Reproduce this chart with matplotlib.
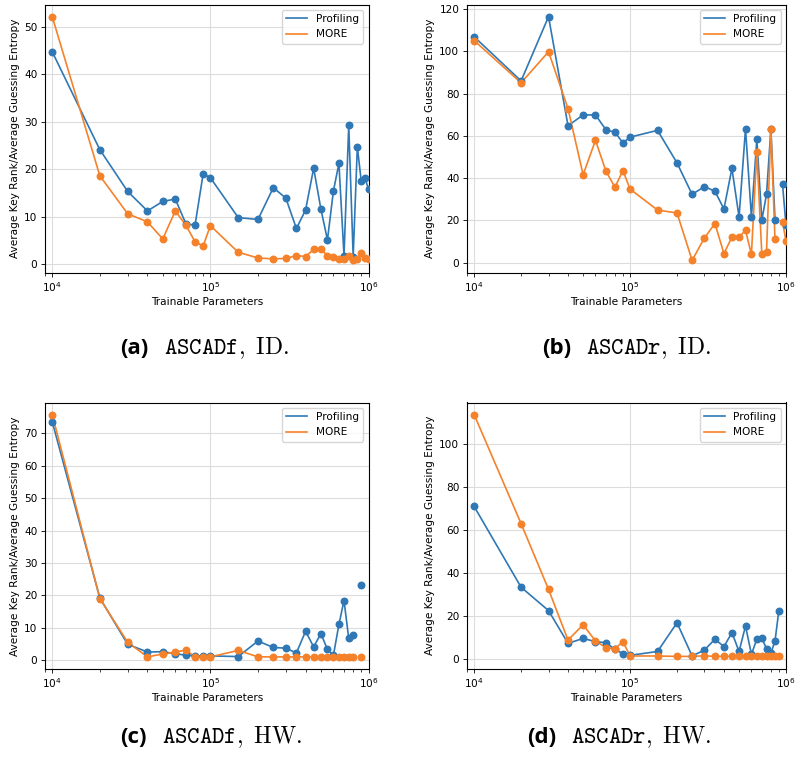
import numpy as np
import matplotlib.pyplot as plt
from matplotlib.offsetbox import TextArea, HPacker, AnnotationBbox

nan = np.nan

# trainable parameters (x axis)
params = [10000, 20000, 30000, 40000, 50000, 60000, 70000, 80000, 90000, 100000,
          150000, 200000, 250000, 300000, 350000, 400000, 450000, 500000, 550000,
          600000, 650000, 700000, 750000, 800000, 850000, 900000, 950000, 1000000]

# (a) ASCADf, ID
prof_a = [44.7, 24.1, 15.3, 11.2, 13.2, 13.7, 8.5, 8.2, 19.0, 18.2,
          9.8, 9.4, 16.1, 13.9, 7.5, 11.4, 20.2, 11.6, 5.1,
          15.4, 21.2, 1.8, 29.2, 1.6, 24.7, 17.4, 18.1, 15.8]
more_a = [52.1, 18.6, 10.6, 8.9, 5.3, 11.2, 8.2, 4.7, 3.8, 8.1,
          2.5, 1.3, 1.1, 1.2, 1.8, 1.6, 3.1, 3.1, 1.8,
          1.4, 1.0, 1.1, 1.8, 0.8, 1.1, 2.3, 1.3, 1.0]

# (b) ASCADr, ID
prof_b = [106.9, 86.0, 116.4, 64.8, 69.9, 69.9, 62.9, 61.7, 56.7, 59.4,
          62.6, 47.2, 32.3, 36.0, 33.8, 25.4, 44.6, 21.6, 63.4,
          21.6, 58.3, 20.1, 32.4, 63.2, 20.4, nan, 37.1, 17.7]
more_b = [105.1, 85.1, 99.8, 72.9, 41.6, 57.9, 43.3, 35.7, 43.6, 34.8,
          24.9, 23.5, 1.1, 11.7, 18.5, 4.3, 12.1, 12.1, 15.3,
          3.9, 52.5, 3.9, 5.0, 63.2, 11.1, nan, 19.3, 10.2]

# (c) ASCADf, HW
prof_c = [73.6, 19.2, 4.9, 2.5, 2.6, 2.0, 1.5, 1.3, 1.2, 1.3,
          1.1, 5.9, 3.9, 3.7, 2.2, 8.9, 4.1, 8.2, 3.3,
          1.5, 11.0, 18.4, 6.7, 7.9, nan, 23.1, nan, nan]
more_c = [75.8, 19.0, 5.5, 1.0, 1.9, 2.5, 3.1, 1.0, 1.0, 1.0,
          3.0, 1.0, 1.0, 1.0, 1.0, 1.0, 1.0, 1.0, 1.0,
          1.0, 1.0, 1.0, 1.0, 1.0, nan, 1.0, nan, nan]

# (d) ASCADr, HW
prof_d = [71.0, 33.3, 22.4, 7.1, 9.4, 7.9, 7.4, 4.3, 2.3, 1.5,
          3.3, 16.7, 1.2, 4.0, 9.0, 5.6, 12.1, 3.3, 15.2,
          2.0, 9.0, 9.4, 4.6, 2.5, 8.2, 22.4, nan, nan]
more_d = [113.9, 63.0, 32.3, 8.6, 15.8, 8.2, 5.1, 4.6, 7.9, 1.2,
          1.2, 1.0, 1.0, 1.3, 1.0, 1.0, 1.0, 1.0, 1.0,
          1.0, 1.0, 1.0, 1.0, 1.0, 1.0, 1.0, nan, nan]

BLUE = '#2f78b5'
ORANGE = '#f5822a'
W, H = 797, 764
FS = 7.6

plt.rcParams.update({'font.size': FS})


def box(l, t, r, b):
    return [l / W, 1 - b / H, (r - l) / W, (b - t) / H]


def panel(ax, prof, more):
    ax.plot(params, prof, color=BLUE, lw=1.2, label='Profiling')
    ax.scatter(params, prof, color=BLUE, s=22, zorder=3)
    ax.plot(params, more, color=ORANGE, lw=1.2, label='MORE')
    ax.scatter(params, more, color=ORANGE, s=22, zorder=3)
    ax.set_xscale('log')
    ax.set_xlim(9000, 1e6)
    ax.grid(True, color='#dcdcdc', lw=0.8)
    ax.set_axisbelow(True)
    ax.set_xlabel('Trainable Parameters', fontsize=FS, labelpad=2)
    ax.set_ylabel('Average Key Rank/Average Guessing Entropy', fontsize=FS, labelpad=3)
    ax.tick_params(labelsize=FS, length=3, width=0.6, pad=2.5)
    ax.tick_params(which='minor', length=1.8, width=0.5)
    for s in ax.spines.values():
        s.set_linewidth(0.8)
    ax.legend(loc='upper right', fontsize=FS)


def caption(fig, x, y, tag, name, kind):
    parts = [TextArea(tag, textprops=dict(family='Open Sans', weight='bold', size=16)),
             TextArea(r'$\mathtt{%s}\mathrm{,\ %s.}$' % (name, kind),
                      textprops=dict(size=17, math_fontfamily='cm'))]
    hp = HPacker(children=parts, align='baseline', pad=0, sep=11)
    ab = AnnotationBbox(hp, (x, y), xycoords='figure pixels', frameon=False,
                        box_alignment=(0, 0.5), pad=0)
    fig.add_artist(ab)


fig = plt.figure(figsize=(7.97, 7.64), dpi=100)

ax_a = fig.add_axes(box(45, 4.5, 368.5, 272.5))
ax_b = fig.add_axes(box(467, 4.5, 786, 272.5))
ax_c = fig.add_axes(box(45, 402.5, 368.5, 669))
ax_d = fig.add_axes(box(467, 402.5, 786, 668.5))

panel(ax_a, prof_a, more_a)
panel(ax_b, prof_b, more_b)
panel(ax_c, prof_c, more_c)
panel(ax_d, prof_d, more_d)

caption(fig, 120, H - 348, '(a)', 'ASCADf', 'ID')
caption(fig, 542, H - 348, '(b)', 'ASCADr', 'ID')
caption(fig, 120, H - 737, '(c)', 'ASCADf', 'HW')
caption(fig, 527, H - 737, '(d)', 'ASCADr', 'HW')

fig.savefig('out.png', dpi=100)
